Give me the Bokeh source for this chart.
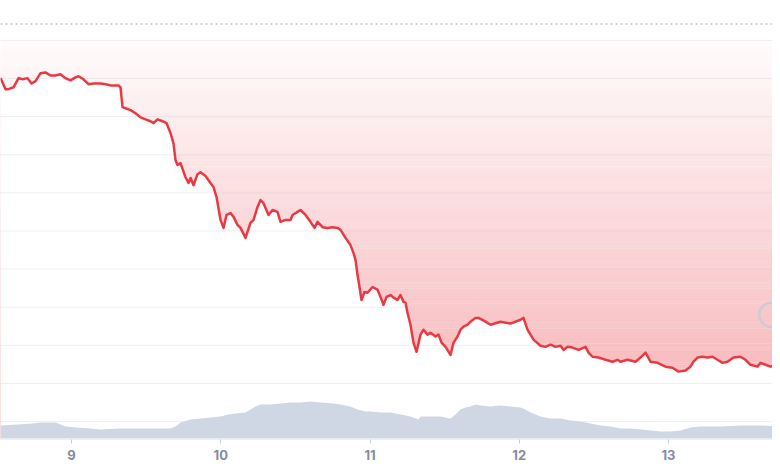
import numpy as np
from bokeh.plotting import figure
from bokeh.models import Range1d, FixedTicker, Span
from bokeh.embed import file_html
from bokeh.resources import INLINE

# ---- data (time in hours since day 8, 00:00) ----
price_time = [12.58, 13.39, 13.87, 14.67, 15.48, 16.12, 16.92, 17.57, 18.21, 19.02,
              19.82, 20.62, 21.43, 22.23, 23.04, 23.84, 24.64, 25.13, 25.93, 26.73,
              27.54, 28.18, 28.66, 29.47, 30.27, 31.08, 31.56, 31.88, 32.20, 32.68,
              33.49, 34.29, 35.10, 35.90, 36.70, 37.19, 37.83, 38.63, 39.28, 39.92,
              40.40, 40.72, 41.04, 41.53, 42.33, 42.81, 43.14, 43.62, 44.26, 44.74,
              45.55, 46.35, 46.83, 47.32, 47.96, 48.44, 48.92, 49.57, 50.05, 50.69,
              51.18, 51.98, 52.78, 53.27, 53.91, 54.39, 54.87, 55.68, 56.32, 57.12,
              57.61, 58.41, 59.22, 59.54, 60.34, 60.82, 61.63, 62.43, 63.07, 63.56,
              64.36, 65.16, 65.97, 66.77, 67.26, 68.06, 68.86, 69.35, 69.67, 69.99,
              70.31, 70.63, 71.11, 71.60, 72.40, 73.20, 73.69, 74.17, 74.65, 75.30,
              75.78, 76.42, 76.90, 77.39, 77.71, 78.03, 78.51, 78.99, 79.48, 80.12,
              80.60, 81.24, 81.73, 82.53, 83.01, 83.50, 84.14, 84.94, 85.43, 86.07,
              86.55, 87.03, 87.68, 88.16, 88.96, 89.45, 90.57, 91.38, 92.98, 94.59,
              96.20, 96.68, 97.32, 98.29, 99.41, 100.22, 101.02, 101.83, 102.63, 103.11,
              103.76, 104.56, 105.53, 106.65, 107.13, 107.78, 108.74, 109.87, 110.99, 111.80,
              112.28, 113.40, 114.69, 115.50, 116.30, 117.10, 118.23, 119.52, 120.64, 121.61,
              122.73, 123.53, 124.02, 124.66, 125.46, 126.27, 127.07, 127.88, 128.68, 129.48,
              130.45, 131.58, 132.38, 133.18, 134.31, 134.79, 135.60, 136.40, 137.20, 138.01]

price_value = [29.01, 28.72, 28.72, 28.77, 29.01, 28.98, 29.01, 28.87, 28.93, 29.14,
               29.16, 29.08, 29.08, 29.11, 29.01, 28.95, 29.03, 29.06, 28.98, 28.85,
               28.87, 28.87, 28.87, 28.85, 28.82, 28.82, 28.82, 28.77, 28.25, 28.22,
               28.17, 28.09, 27.98, 27.93, 27.88, 27.83, 27.93, 27.88, 27.83, 27.57,
               27.30, 26.86, 26.73, 26.78, 26.41, 26.26, 26.39, 26.20, 26.49, 26.54,
               26.44, 26.26, 26.15, 25.89, 25.29, 25.08, 25.42, 25.47, 25.37, 25.16,
               25.08, 24.82, 25.21, 25.29, 25.63, 25.81, 25.73, 25.42, 25.55, 25.50,
               25.24, 25.29, 25.29, 25.42, 25.50, 25.55, 25.42, 25.24, 25.08, 25.24,
               25.10, 25.08, 25.10, 25.08, 25.03, 24.82, 24.63, 24.42, 24.24, 23.85,
               23.53, 23.19, 23.40, 23.38, 23.53, 23.46, 23.27, 23.06, 23.27, 23.32,
               23.25, 23.19, 23.32, 23.14, 23.12, 22.85, 22.54, 22.07, 21.83, 22.28,
               22.41, 22.28, 22.33, 22.23, 22.28, 22.07, 21.96, 21.75, 22.07, 22.23,
               22.41, 22.49, 22.54, 22.62, 22.72, 22.72, 22.62, 22.54, 22.62, 22.57,
               22.67, 22.72, 22.41, 22.15, 21.99, 21.96, 22.02, 21.96, 21.99, 21.88,
               21.96, 21.94, 21.88, 21.96, 21.81, 21.70, 21.68, 21.62, 21.57, 21.62,
               21.57, 21.62, 21.57, 21.68, 21.81, 21.57, 21.54, 21.44, 21.41, 21.31,
               21.34, 21.44, 21.57, 21.68, 21.70, 21.68, 21.70, 21.62, 21.54, 21.57,
               21.68, 21.70, 21.62, 21.49, 21.44, 21.54, 21.49, 21.44, 21.49, 21.49]

volume_time = [12.58, 15.32, 17.89, 19.02, 21.43, 23.04, 24.64, 27.06, 28.66, 31.88,
               36.70, 39.92, 40.72, 41.53, 43.14, 44.74, 47.96, 49.25, 50.37, 51.98,
               52.78, 53.59, 54.39, 56.00, 57.61, 59.22, 60.82, 62.43, 64.04, 66.13,
               67.26, 68.86, 69.99, 71.28, 72.08, 73.69, 75.30, 76.90, 78.51, 79.80,
               80.12, 81.73, 83.34, 84.94, 85.75, 86.55, 87.36, 88.16, 88.96, 89.77,
               91.38, 92.98, 94.59, 96.20, 97.00, 97.81, 99.41, 101.02, 102.63, 104.24,
               105.85, 107.46, 109.06, 110.67, 112.28, 113.89, 115.50, 117.10, 118.71, 120.32,
               121.93, 123.53, 125.14, 128.36, 131.58, 134.79, 138.01]

volume_value = [13, 14, 15, 16, 16, 12, 11, 10, 9, 10,
                10, 10, 12, 16, 19, 20, 22, 24, 25, 26,
                29, 32, 34, 34, 35, 36, 36, 37, 36, 35,
                34, 32, 29, 27, 27, 26, 26, 24, 22, 19,
                22, 22, 22, 20, 24, 29, 31, 32, 34, 33,
                32, 33, 32, 31, 29, 26, 22, 20, 20, 18,
                17, 15, 13, 12, 10, 10, 9, 8, 7, 7,
                8, 11, 12, 12, 13, 13, 12]

day_ticks = [24, 48, 72, 96, 120]
day_labels = ["9", "10", "11", "12", "13"]
grid_levels = [20, 21, 22, 23, 24, 25, 26, 27, 28, 29, 30]

assert len(price_time) == len(price_value)
assert len(volume_time) == len(volume_value)

# ---- view settings ----
X_START, X_END = 12.58, 136.72
P_LOW, P_HIGH = 19.529, 31.047
FILL_TOP = 30.0
REF_HIGH = 30.43
RED = "#ea3943"

p = figure(width=772, height=462, output_backend="svg", toolbar_location=None,
           x_range=Range1d(X_START, X_END), y_range=Range1d(P_LOW, P_HIGH),
           y_axis_location=None,
           min_border_left=0, min_border_right=0, min_border_top=0, min_border_bottom=22,
           background_fill_color="white", border_fill_color="white",
           outline_line_color=None)
p.extra_y_ranges = {"vol": Range1d(-1, 439)}
p.grid.visible = False

# gradient fill (bands), then white mask below the price line
edges = np.arange(FILL_TOP, P_LOW - 0.05, -0.05)
tops = edges[:-1]
bots = edges[1:]
mids = (tops + bots) / 2
alpha = np.clip(0.0371 * (30.47 - mids), 0, 1)
cols = ["#%02x%02x%02x" % (int(round(255 - a * (255 - 234))),
                            int(round(255 - a * (255 - 57))),
                            int(round(255 - a * (255 - 67)))) for a in alpha]
p.quad(left=X_START - 1, right=X_END + 2, top=tops, bottom=bots - 0.01,
       fill_color=cols, line_color=None)
p.varea(x=price_time, y1=price_value, y2=P_LOW - 0.1, fill_color="white")

# grid lines
p.segment(x0=X_START - 1, y0=grid_levels, x1=X_END + 2, y1=grid_levels,
          line_color="#c4c9d3", line_alpha=0.3, line_width=1)

# volume
p.varea(x=volume_time, y1=0, y2=volume_value, fill_color="#cfd6e4",
        y_range_name="vol")

# price line
p.line(price_time, price_value, line_color=RED, line_width=2.5,
       line_join="round")

# dotted top reference line
p.add_layout(Span(location=REF_HIGH, dimension="width", line_color="#bfc4cc",
                  line_dash="2 3", line_width=1.5))

# watermark ring
p.scatter(x=[X_END - 0.2], y=[22.80], marker="circle", size=24,
          fill_color=None, line_color="#c7cad9", line_width=2.5, line_alpha=0.9)

ax = p.xaxis[0]
ax.ticker = FixedTicker(ticks=day_ticks)
ax.major_label_overrides = {t: l for t, l in zip(day_ticks, day_labels)}
ax.axis_line_color = None
ax.major_tick_line_color = "#c9ced6"
ax.major_tick_in = 0
ax.major_tick_out = 4
ax.minor_tick_line_color = None
ax.major_label_text_font = "Inter"
ax.major_label_text_font_size = "13px"
ax.major_label_text_font_style = "bold"
ax.major_label_text_color = "#858ca2"
ax.major_label_standoff = 6

open("out.html", "w").write(file_html(p, INLINE))
